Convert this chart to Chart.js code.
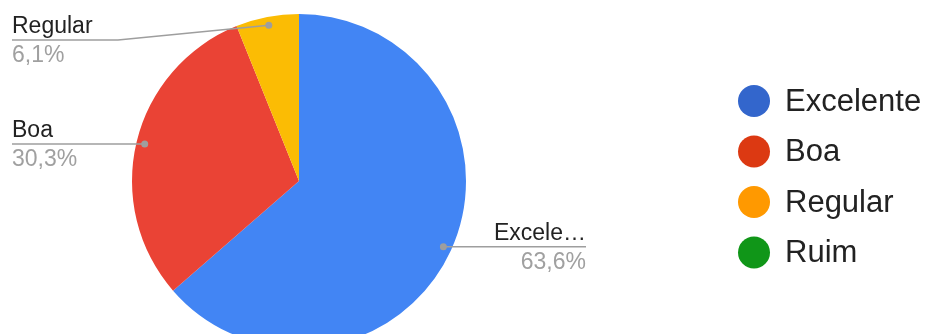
<!DOCTYPE html>
<html>
<head>
<meta charset="utf-8">
<script src="https://cdn.jsdelivr.net/npm/chart.js@4.4.1/dist/chart.umd.min.js"></script>
<style>
  html, body { margin: 0; padding: 0; background: #fff; overflow: hidden; }
  #wrap { position: relative; width: 925px; height: 360px; }
</style>
</head>
<body>
<div id="wrap"><canvas id="myChart"></canvas></div>
<script>
const categories = ['Excelente', 'Boa', 'Regular', 'Ruim'];
const percentages = [63.6, 30.3, 6.1, 0];
const sliceColors = ['#4285f4', '#ea4335', '#fbbc04', '#34a853'];
const legendColors = ['#3366cc', '#dc3912', '#ff9900', '#109618'];

const FONT = '"Liberation Sans", Arial, sans-serif';

function fmtPct(v) {
    return v.toFixed(1).replace('.', ',') + '%';
}

function fitText(ctx, text, maxWidth) {
    if (ctx.measureText(text).width <= maxWidth) return text;
    let t = text;
    while (t.length > 1 && ctx.measureText(t + '…').width > maxWidth) {
        t = t.slice(0, -1);
    }
    return t + '…';
}

// leader lines with name + percentage, google forms style
const sliceLabels = {
    id: 'sliceLabels',
    afterDatasetsDraw(chart) {
        const { ctx, chartArea } = chart;
        const meta = chart.getDatasetMeta(0);
        ctx.save();
        meta.data.forEach((arc, i) => {
            const value = chart.data.datasets[0].data[i];
            if (!value) return;
            const mid = (arc.startAngle + arc.endAngle) / 2;
            const r = arc.outerRadius * 0.95;
            const px = arc.x + Math.cos(mid) * r;
            const py = arc.y + Math.sin(mid) * r;
            const right = Math.cos(mid) > 0;
            const lineY = Math.max(py, chartArea.top + 26);

            ctx.strokeStyle = '#9e9e9e';
            ctx.lineWidth = 1.5;
            ctx.beginPath();
            let textX;
            if (right) {
                textX = chartArea.right + 120;
                ctx.moveTo(px, py);
                ctx.lineTo(textX, lineY);
            } else {
                textX = 12;
                ctx.moveTo(textX, lineY);
                if (lineY !== py) ctx.lineTo(textX + 106, lineY);
                ctx.lineTo(px, py);
            }
            ctx.stroke();

            ctx.fillStyle = '#9e9e9e';
            ctx.beginPath();
            ctx.arc(px, py, 3.5, 0, Math.PI * 2);
            ctx.fill();

            ctx.font = '23px ' + FONT;
            ctx.textAlign = right ? 'right' : 'left';
            ctx.textBaseline = 'alphabetic';
            ctx.fillStyle = '#222';
            ctx.fillText(fitText(ctx, chart.data.labels[i], 96), textX, lineY - 7);
            ctx.fillStyle = '#a0a0a0';
            ctx.fillText(fmtPct(value), textX, lineY + 22);
        });
        ctx.restore();
    }
};

const sideLegend = {
    id: 'sideLegend',
    afterDraw(chart) {
        const { ctx } = chart;
        ctx.save();
        chart.data.labels.forEach((name, i) => {
            const cy = 101 + i * 50.5;
            ctx.fillStyle = legendColors[i];
            ctx.beginPath();
            ctx.arc(754, cy, 16, 0, Math.PI * 2);
            ctx.fill();
            ctx.font = '31px ' + FONT;
            ctx.textAlign = 'left';
            ctx.textBaseline = 'middle';
            ctx.fillStyle = '#222';
            ctx.fillText(name, 785, cy + 1);
        });
        ctx.restore();
    }
};

const ctx = document.getElementById('myChart');

const myChart = new Chart(ctx, {
    type: 'pie',
    data: {
        labels: categories,
        datasets: [
            {
                data: percentages,
                backgroundColor: sliceColors,
                borderWidth: 0,
                hoverOffset: 0
            }
        ]
    },
    options: {
        responsive: true,
        maintainAspectRatio: false,
        animation: false,
        layout: {
            padding: { left: 132, right: 459, top: 14, bottom: 12 }
        },
        plugins: {
            legend: { display: false },
            tooltip: { enabled: false }
        }
    },
    plugins: [sliceLabels, sideLegend]
});
</script>
</body>
</html>
